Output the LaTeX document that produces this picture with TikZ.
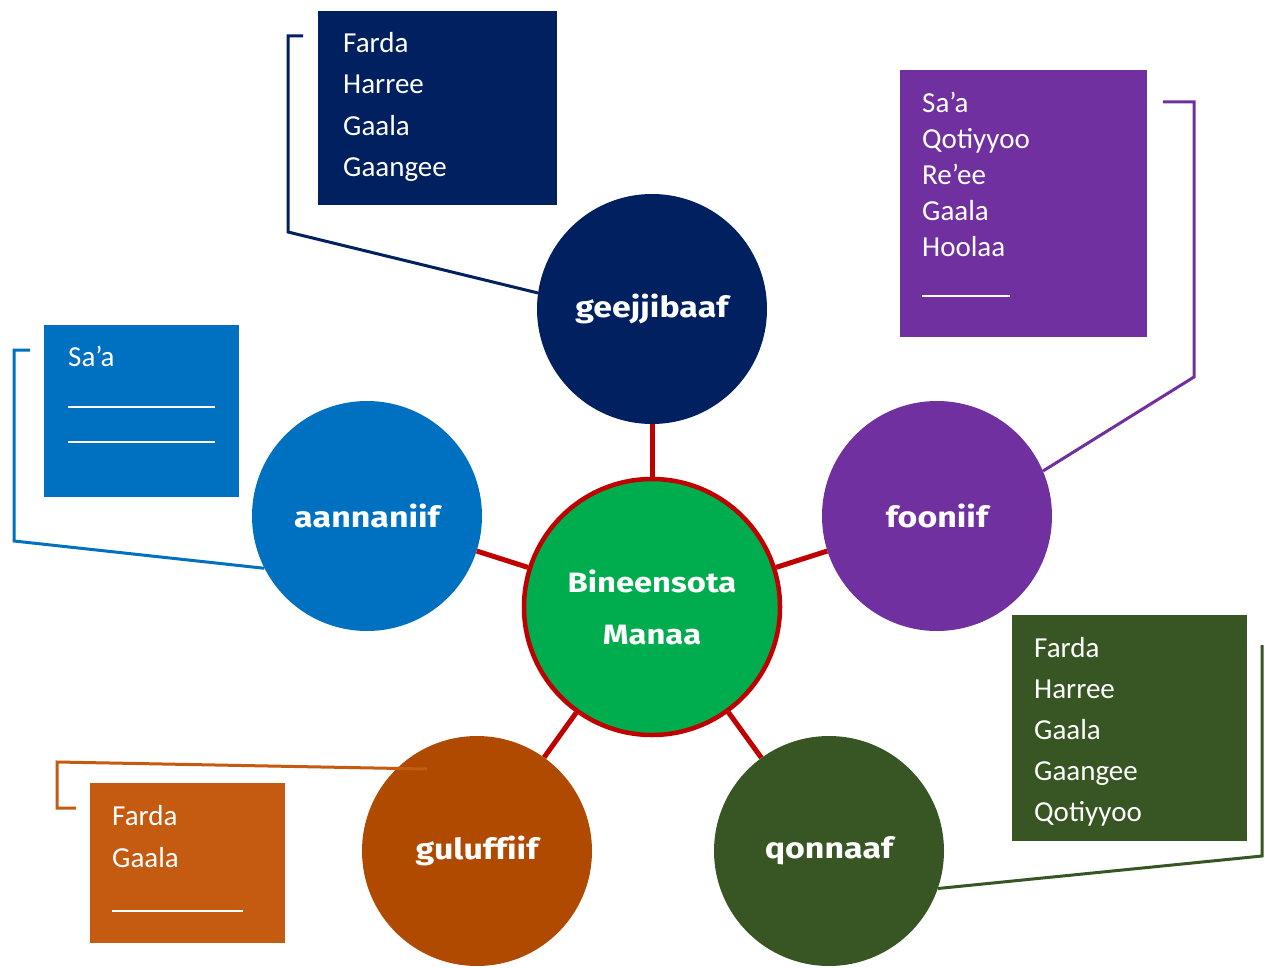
\documentclass[tikz,border=0pt]{standalone}
\usepackage{fontspec}
\setmainfont{Carlito}
\newfontfamily\circfont[FakeStretch=1.17,Ligatures=NoCommon]{Fira Sans}
\definecolor{navy}{HTML}{002060}
\definecolor{cblue}{HTML}{0070C0}
\definecolor{cpurple}{HTML}{7030A0}
\definecolor{corange}{HTML}{AF4A00}
\definecolor{borange}{HTML}{C55A11}
\definecolor{cgreen}{HTML}{375623}
\definecolor{ccenter}{HTML}{00AD4E}
\definecolor{cred}{HTML}{C00000}
\begin{document}
\begin{tikzpicture}[x=1pt,y=-1pt,
  sat/.style={circle, minimum size=230pt, inner sep=0pt, fill=#1, text=white,
    font=\circfont\bfseries\fontsize{29}{34}\selectfont},
  boxshape/.style={rectangle, fill=#1, inner sep=0pt, anchor=north west},
  boxtext/.style={anchor=north west, inner sep=0pt, align=left, text=white,
    font=\fontsize{29}{#1}\selectfont},
  spoke/.style={draw=cred, line width=5pt},
  lead/.style={draw=#1, line width=3pt},
  blank/.style={draw=white, line width=1.8pt}]
\useasboundingbox (0,0) rectangle (1265,968);

% boxes
\node[boxshape=navy, minimum width=239pt, minimum height=194pt] (bnavy) at (318,11) {};
\node[boxshape=cpurple, minimum width=247pt, minimum height=267pt] (bpurple) at (900,70) {};
\node[boxshape=cblue, minimum width=195pt, minimum height=172pt] (bblue) at (44,325) {};
\node[boxshape=borange, minimum width=195pt, minimum height=160pt] (borng) at (90,783) {};
\node[boxshape=cgreen, minimum width=235pt, minimum height=226pt] (bgreen) at (1012,615) {};

\node[boxtext=41.5pt] (tnavy) at (343,32) {Farda\\Harree\\Gaala\\Gaangee};
\node[boxtext=36pt] (tpurple) at (922,92) {Sa’a\\Qotiyyoo\\Re’ee\\Gaala\\Hoolaa};
\node[boxtext=36pt] (tblue) at (68,346) {Sa’a};
\node[boxtext=42pt] (torange) at (112,805) {Farda\\Gaala};
\node[boxtext=41pt] (tgreen) at (1034,637) {Farda\\Harree\\Gaala\\Gaangee\\Qotiyyoo};

% blanks
\draw[blank] (922,296) -- (1010,296);
\draw[blank] (68,407) -- (215,407);
\draw[blank] (68,442) -- (215,442);
\draw[blank] (112,911) -- (243,911);

% circles
\node[circle, minimum size=256pt, inner sep=0pt, fill=ccenter, draw=cred, line width=4.5pt,
  text=white, align=center, font=\circfont\bfseries\fontsize{28}{52}\selectfont] (ctr) at (652,607) {Bineensota\\Manaa};
\node[sat=navy] (geej) at (652,309) {geejjibaaf};
\node[sat=cblue] (aann) at (367,516) {aannaniif};
\node[sat=cpurple] (foon) at (937,516) {fooniif};
\node[sat=corange] (gulu) at (477,851) {guluffiif};
\node[sat=cgreen] (qonn) at (829,851) {qonnaaf};

% spokes
\draw[spoke] (ctr) -- (geej);
\draw[spoke] (ctr) -- (aann);
\draw[spoke] (ctr) -- (foon);
\draw[spoke] (ctr) -- (gulu);
\draw[spoke] (ctr) -- (qonn);

% leaders
\coordinate (lnavy) at (303,36);
\coordinate (lpurple) at (1163,102);
\coordinate (lblue) at (30,350);
\coordinate (lorange) at (427,769);
\coordinate (lgreen) at (1262,645);
\draw[lead=navy] (lnavy) -- (288,36) -- (288,232) -- (geej.172);
\draw[lead=cpurple] (lpurple) -- (1194,102) -- (1194,377) -- (foon.23);
\draw[lead=cblue] (lblue) -- (14,350) -- (14,541) -- (aann.207);
\draw[lead=borange] (lorange) -- (57,762) -- (57,808) -- (76,808);
\draw[lead=cgreen] (lgreen) -- (1262,856) -- (qonn.341);
\end{tikzpicture}
\end{document}
